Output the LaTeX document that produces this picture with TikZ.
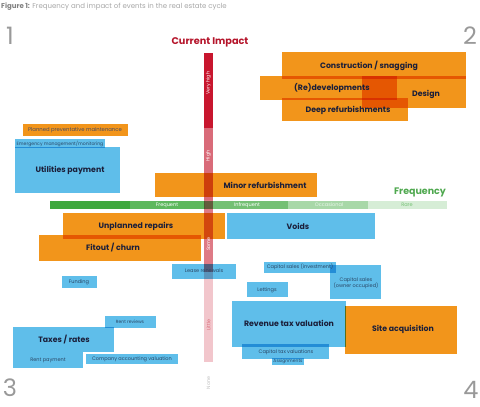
\documentclass[tikz,border=0pt]{standalone}
\usepackage{fontspec}
\setmainfont{Poppins}
\usetikzlibrary{positioning}
\definecolor{orangeC}{HTML}{F2951B}
\definecolor{blueC}{HTML}{5FBEEA}
\definecolor{vhC}{HTML}{C8162E}
\definecolor{hiC}{HTML}{D96B79}
\definecolor{soC}{HTML}{DE7A86}
\definecolor{liC}{HTML}{F2C6CC}
\definecolor{g1C}{HTML}{3FA83F}
\definecolor{g2C}{HTML}{5DB85D}
\definecolor{g3C}{HTML}{74C074}
\definecolor{g4C}{HTML}{A8D8A8}
\definecolor{g5C}{HTML}{D6EDD6}
\definecolor{textdark}{HTML}{1B1F3A}
\definecolor{smalltext}{HTML}{2A4766}
\definecolor{numgray}{HTML}{999999}
\definecolor{impactC}{HTML}{B5152B}
\definecolor{freqC}{HTML}{4FA84F}
\newcommand{\rbox}[6]{\node[#1, anchor=north west, inner sep=0, outer sep=0, minimum width={(#5-#3)*1pt}, minimum height={(#6-#4)*1pt}] (#2) at (#3,#4) {};}
\begin{document}
\begin{tikzpicture}[x=1pt,y=-1pt,
  obox/.style={fill=orangeC},
  bbox/.style={fill=blueC},
  lbl/.style={font=\fontsize{7.8}{9}\selectfont\bfseries, text=textdark, inner sep=0},
  small/.style={font=\fontsize{5}{6}\selectfont, text=smalltext, inner sep=0},
  vlab/.style={font=\fontsize{4.8}{5}\selectfont, text=white, inner sep=0, rotate=90},
  flab/.style={font=\fontsize{5}{6}\selectfont, text=white, inner sep=0},
  corner/.style={font=\fontsize{24}{24}\selectfont, text=numgray, inner sep=0}]
\useasboundingbox (0,0) rectangle (480,407);
\node[anchor=west, inner sep=0, font=\fontsize{7}{8}\selectfont, text=gray!70] (title) at (1,7) {\textbf{\color{gray}Figure 1:} Frequency and impact of events in the real estate cycle};
\node[corner] (n1) at (10,36) {1};
\node[corner] (n2) at (470,36) {2};
\node[corner] (n3) at (10,388) {3};
\node[corner] (n4) at (471,390) {4};

\begin{scope}[blend mode=multiply]
% frequency bar
\rbox{fill=g1C}{f0}{50}{201}{130}{209}
\rbox{fill=g2C}{f1}{130}{201}{205}{209}
\rbox{fill=g3C}{f2}{205}{201}{288}{209}
\rbox{fill=g4C}{f3}{288}{201}{368}{209}
\rbox{fill=g5C}{f4}{368}{201}{447}{209}
% impact bar
\rbox{fill=vhC}{i1}{204}{53}{213}{128}
\rbox{fill=hiC}{i2}{204}{128}{213}{200}
\rbox{fill=soC}{i3}{204}{200}{213}{272}
\rbox{fill=liC}{i4}{204}{272}{213}{362}
% orange boxes
\rbox{obox}{con}{282}{52}{466}{79}
\rbox{obox}{redev}{260}{76}{397}{100}
\rbox{obox}{design}{362}{76}{466}{108}
\rbox{obox}{deep}{282}{98}{408}{121}
\rbox{obox}{ppm}{23}{124}{128}{136}
\rbox{obox}{minor}{155}{173}{317}{197}
\rbox{obox}{unpl}{63}{213}{225}{239}
\rbox{obox}{fit}{39}{235}{201}{261}
\rbox{obox}{site}{345}{306}{457}{354}
% blue boxes
\rbox{bbox}{emer}{15}{139}{105}{148}
\rbox{bbox}{util}{15}{147}{120}{193}
\rbox{bbox}{voids}{227}{213}{375}{239}
\rbox{bbox}{lease}{172}{264}{236}{279}
\rbox{bbox}{fund}{62}{276}{97}{288}
\rbox{bbox}{capinv}{264}{262}{336}{273}
\rbox{bbox}{capown}{330}{265}{381}{299}
\rbox{bbox}{lett}{247}{282}{288}{297}
\rbox{bbox}{rev}{232}{301}{346}{347}
\rbox{bbox}{captax}{242}{344}{329}{359}
\rbox{bbox}{assign}{272}{358}{304}{365}
\rbox{bbox}{rentrev}{105}{316}{156}{328}
\rbox{bbox}{taxes}{13}{327}{114}{352}
\rbox{bbox}{rentpay}{13}{352}{83}{368}
\rbox{bbox}{compacc}{86}{354}{178}{364}
\end{scope}

% axis titles
\node[inner sep=0, font=\fontsize{9.7}{11}\selectfont\bfseries, text=impactC] (impact) at (210,42) {Current Impact};
\node[inner sep=0, font=\fontsize{9.5}{11}\selectfont\bfseries, text=freqC] (freq) at (420,192) {Frequency};
% frequency labels
\node[flab] (lf1) at (167,205) {Frequent};
\node[flab] (lf2) at (247,205) {Infrequent};
\node[flab, text=white!85!g3C] (lf3) at (329,205) {Occasional};
\node[flab, text=g3C] (lf4) at (407,205) {Rare};
% impact labels
\node[vlab] (lvh) at (208.5,83) {Very high};
\node[vlab] (lhi) at (208.5,156) {High};
\node[vlab] (lso) at (208.5,244) {Some};
\node[vlab, text=hiC] (lli) at (208.5,325) {Little};
\node[vlab, text=gray!50] (lno) at (208.5,383) {None};

% box labels
\node[lbl] (t-con) at (369,66) {Construction / snagging};
\node[lbl] (t-redev) at (332,88) {(Re)developments};
\node[lbl] (t-design) at (426,94) {Design};
\node[lbl] (t-deep) at (348,110) {Deep refurbishments};
\node[small, font=\fontsize{5.3}{6}\selectfont, text=textdark!80] (t-ppm) at (75,130) {Planned preventative maintenance};
\node[small, font=\fontsize{4.6}{5}\selectfont] (t-emer) at (60,143.5) {Emergency management/monitoring};
\node[lbl] (t-util) at (70,170) {Utilities payment};
\node[lbl] (t-minor) at (265,185) {Minor refurbishment};
\node[lbl] (t-unpl) at (136,226) {Unplanned repairs};
\node[lbl] (t-fit) at (113,248) {Fitout / churn};
\node[lbl] (t-voids) at (298,226) {Voids};
\node[small] (t-lease) at (204,271) {Lease renewals};
\node[small] (t-fund) at (79,282) {Funding};
\node[small] (t-capinv) at (300,267) {Capital sales (investment)};
\node[small, align=center] (t-capown) at (356,283) {Capital sales\\(owner occupied)};
\node[small] (t-lett) at (267,290) {Lettings};
\node[lbl] (t-rev) at (289,323) {Revenue tax valuation};
\node[lbl] (t-site) at (403,329) {Site acquisition};
\node[small] (t-captax) at (286,352) {Capital tax valuations};
\node[small, font=\fontsize{4.5}{5}\selectfont] (t-assign) at (288,361.5) {Assignments};
\node[small, font=\fontsize{4.5}{5}\selectfont] (t-rentrev) at (130,322) {Rent reviews};
\node[lbl] (t-taxes) at (64,340) {Taxes / rates};
\node[small] (t-rentpay) at (48,360) {Rent payment};
\node[small] (t-compacc) at (132,359) {Company accounting valuation};
\end{tikzpicture}
\end{document}
